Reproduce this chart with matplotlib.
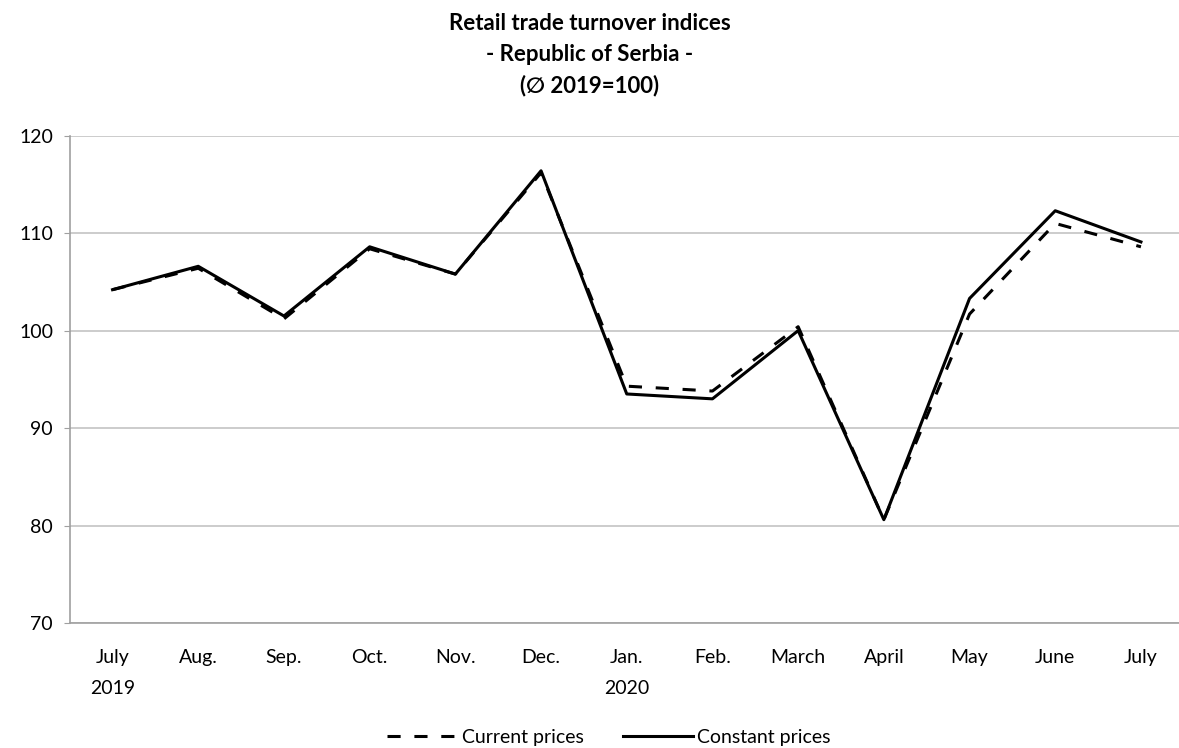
import matplotlib.pyplot as plt
import numpy as np

# data
months = ["July\n2019", "Aug.", "Sep.", "Oct.", "Nov.", "Dec.", "Jan.\n2020",
          "Feb.", "March", "April", "May", "June", "July"]
current_prices = [104.2, 106.4, 101.2, 108.4, 105.8, 116.2, 94.3,
                  93.8, 100.4, 80.6, 101.7, 111.0, 108.6]
constant_prices = [104.2, 106.6, 101.5, 108.6, 105.8, 116.4, 93.5,
                   93.0, 100.0, 80.6, 103.3, 112.3, 109.1]
y_ticks = [70, 80, 90, 100, 110, 120]

plt.rcParams['font.family'] = ['Lato', 'DejaVu Sans']

W, H = 1179, 748
fig = plt.figure(figsize=(W / 100, H / 100), dpi=100)

# axes box in pixels: left 70, top 136, bottom 623, category width ~85.7
left, top, bottom = 69.7, 135.7, 623.0
width = 85.7 * len(months)
ax = fig.add_axes([left / W, (H - bottom) / H, width / W, (bottom - top) / H])

x = np.arange(len(months))
ax.plot(x, current_prices, color='black', lw=2.2, dashes=(4.3, 4.5),
        label='Current prices')
ax.plot(x, constant_prices, color='black', lw=2.2, label='Constant prices')

ax.set_xlim(-0.5, len(months) - 0.5)
ax.set_ylim(70, 120)
ax.set_yticks(y_ticks)
ax.set_xticks(x)
ax.set_xticklabels(months, linespacing=1.95, va='top')

ax.grid(axis='y', color='#c4c4c4', lw=1.2)
ax.set_axisbelow(True)
for side in ['top', 'right']:
    ax.spines[side].set_visible(False)
for side in ['left', 'bottom']:
    ax.spines[side].set_color('#a0a0a0')
    ax.spines[side].set_linewidth(1.2)

ax.tick_params(axis='y', length=4, color='#a0a0a0', labelsize=14, pad=8)
ax.tick_params(axis='x', length=0, labelsize=14, pad=19)

title_lines = ["Retail trade turnover indices", "- Republic of Serbia -",
               "(\u2205 2019=100)"]
for i, line in enumerate(title_lines):
    fig.text(0.5, 1 - (23 + 31.5 * i) / H, line, ha='center', va='center',
             fontsize=16, fontweight='bold')

fig.legend(loc='center', bbox_to_anchor=(609 / W, 11 / H), ncol=2,
           frameon=False, fontsize=14, handlelength=3.6, handletextpad=0.25,
           columnspacing=2.0)

fig.savefig('out.png', dpi=100)
